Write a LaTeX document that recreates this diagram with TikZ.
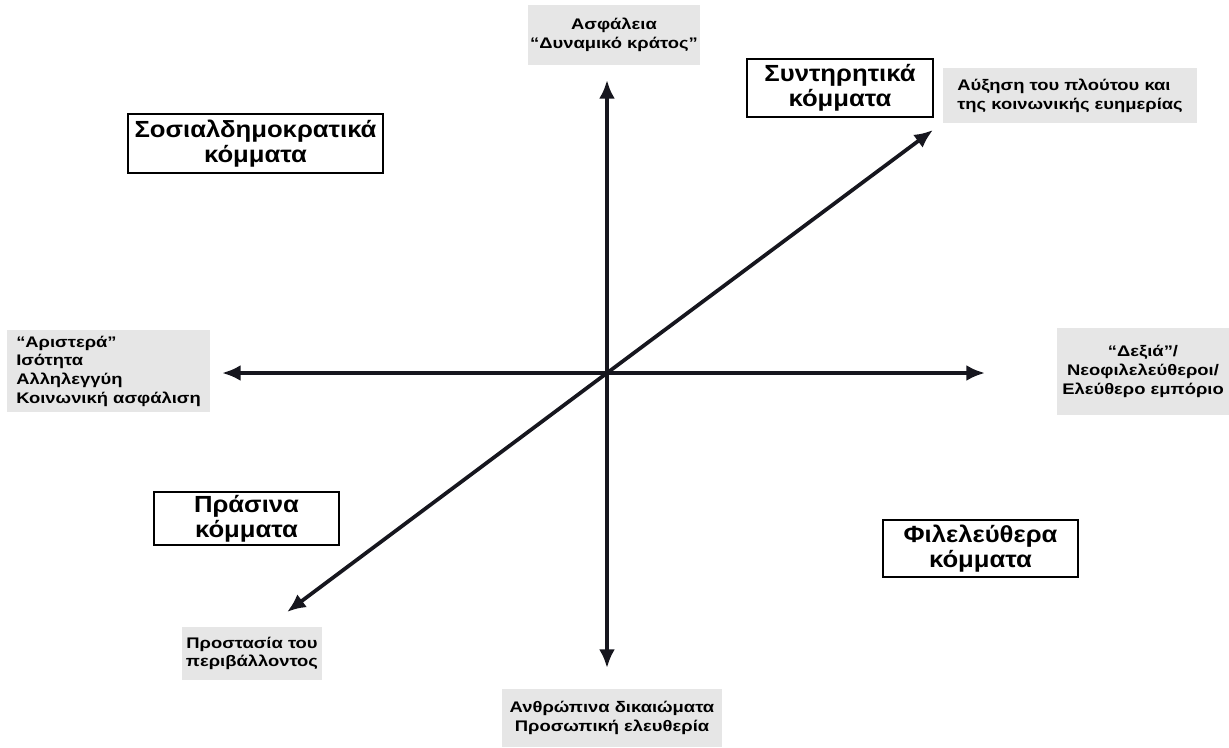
\documentclass[tikz,border=0pt]{standalone}
\usepackage{fontspec}
\setmainfont{Liberation Sans}
\newfontfamily\lblfont[FakeStretch=1.2]{Liberation Sans}
\newfontfamily\partyfont[FakeStretch=1.1]{Liberation Sans}
\usetikzlibrary{arrows.meta}
\definecolor{axiscol}{RGB}{22,22,30}
\definecolor{boxgray}{RGB}{230,230,230}
\begin{document}
\begin{tikzpicture}[x=0.75pt,y=-0.75pt,
  graybox/.style={fill=boxgray, draw=none, inner sep=0pt, font=\lblfont\bfseries\fontsize{11.5}{14}\selectfont},
  partybox/.style={fill=white, draw=black, line width=0.9pt, inner sep=0pt, align=center, font=\partyfont\bfseries\fontsize{17.5}{19}\selectfont},
  axis/.style={line width=2.8pt, axiscol, -{Latex[length=14pt,width=12pt]}}]
\useasboundingbox (0,0) rectangle (1229,747);
% center and tips
\coordinate (O) at (607,373);
\coordinate (T) at (607,80);
\coordinate (B) at (607,668);
\coordinate (L) at (222,373);
\coordinate (R) at (985,373);
\coordinate (UR) at (933,130);
\coordinate (LL) at (287,612);
% axes
\draw[axis] (O) -- (T);
\draw[axis] (O) -- (B);
\draw[axis] (O) -- (L);
\draw[axis] (O) -- (R);
\draw[axis] (O) -- (UR);
\draw[axis] (O) -- (LL);
% gray label boxes
\node[graybox, minimum width=172*0.75pt, minimum height=60*0.75pt, align=center] (top) at (614,35)
  {Ασφάλεια\\“Δυναμικό κράτος”};
\node[graybox, minimum width=254*0.75pt, minimum height=55*0.75pt, align=left] (ur) at (1070,95.5)
  {Αύξηση του πλούτου και\\της κοινωνικής ευημερίας};
\node[graybox, minimum width=203*0.75pt, minimum height=82*0.75pt, align=left] (left) at (108.5,371)
  {“Αριστερά”\\Ισότητα\\Αλληλεγγύη\\Κοινωνική ασφάλιση};
\node[graybox, minimum width=172*0.75pt, minimum height=87*0.75pt, align=center] (right) at (1143,371.5)
  {“Δεξιά”/\\Νεοφιλελεύθεροι/\\Ελεύθερο εμπόριο};
\node[graybox, minimum width=140*0.75pt, minimum height=53*0.75pt, align=center] (ll) at (252,653.5)
  {Προστασία του\\περιβάλλοντος};
\node[graybox, minimum width=220*0.75pt, minimum height=58*0.75pt, align=center] (bottom) at (612,718)
  {Ανθρώπινα δικαιώματα\\Προσωπική ελευθερία};
% party boxes
\node[partybox, minimum width=255*0.75pt, minimum height=59*0.75pt] (sd) at (255.5,143.5)
  {Σοσιαλδημοκρατικά\\κόμματα};
\node[partybox, minimum width=186*0.75pt, minimum height=58*0.75pt] (cons) at (840,88)
  {Συντηρητικά\\κόμματα};
\node[partybox, minimum width=185*0.75pt, minimum height=53*0.75pt] (green) at (246.5,518.5)
  {Πράσινα\\κόμματα};
\node[partybox, minimum width=195*0.75pt, minimum height=57*0.75pt] (lib) at (980.5,548.5)
  {Φιλελεύθερα\\κόμματα};
\end{tikzpicture}
\end{document}
